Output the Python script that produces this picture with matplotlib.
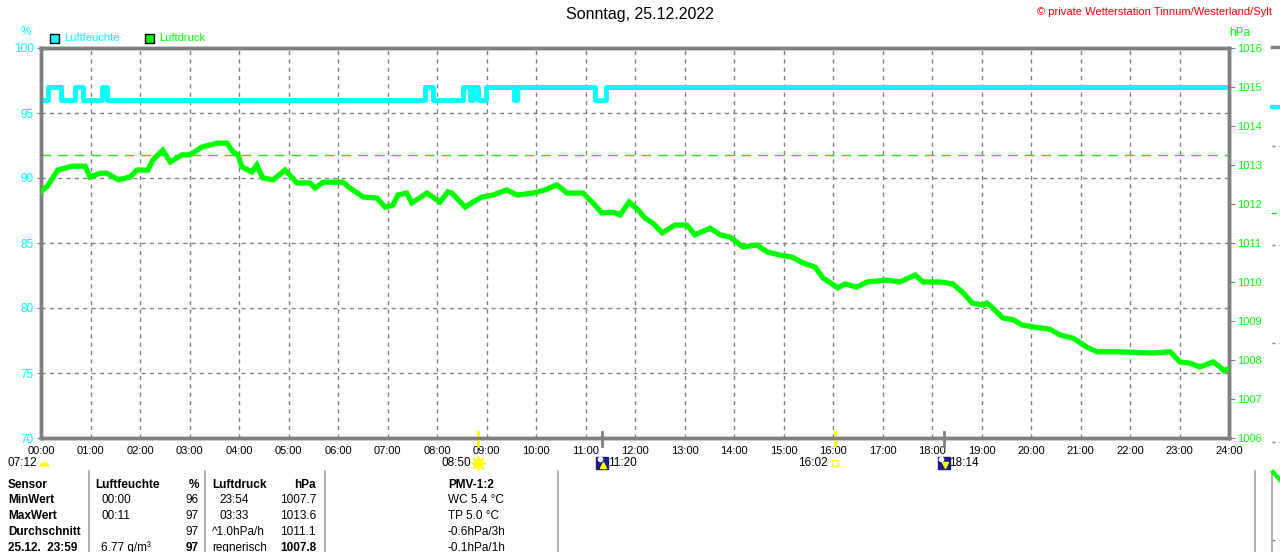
import numpy as np
import matplotlib
matplotlib.use("Agg")
import matplotlib.pyplot as plt
from matplotlib.patches import Rectangle
from matplotlib.lines import Line2D
import matplotlib.transforms as mtransforms

plt.rcParams['font.family'] = ['Liberation Sans', 'DejaVu Sans']

#-------------------------------------------------------------
# data
title = "Sonntag, 25.12.2022"
copyright_txt = "\u00a9 private Wetterstation Tinnum/Westerland/Sylt"

hours = ["00:00", "01:00", "02:00", "03:00", "04:00", "05:00", "06:00", "07:00",
         "08:00", "09:00", "10:00", "11:00", "12:00", "13:00", "14:00", "15:00",
         "16:00", "17:00", "18:00", "19:00", "20:00", "21:00", "22:00", "23:00", "24:00"]

# Luftfeuchte (%), step function
hum_t = [0.00, 0.14, 0.40, 0.69, 0.85, 1.23, 1.33, 7.76, 7.92, 8.53, 8.67,
         8.73, 8.83, 8.99, 9.56, 9.62, 11.19, 11.41, 24.0]
hum_v = [96, 97, 96, 97, 96, 97, 96, 97, 96, 97, 96,
         97, 96, 97, 96, 97, 96, 97, 97]

# Luftdruck (hPa)
pres_t = [0.00, 0.12, 0.34, 0.63, 0.89, 0.99, 1.19, 1.33, 1.56, 1.80, 1.94, 2.16,
          2.26, 2.46, 2.61, 2.85, 3.01, 3.25, 3.56, 3.76, 3.88, 3.98, 4.06, 4.26,
          4.36, 4.48, 4.69, 4.93, 5.17, 5.43, 5.54, 5.70, 6.10, 6.24, 6.51, 6.79,
          6.95, 7.11, 7.21, 7.39, 7.49, 7.80, 8.06, 8.22, 8.30, 8.57, 8.73, 8.91,
          9.13, 9.41, 9.62, 9.94, 10.18, 10.42, 10.63, 10.95, 11.15, 11.33, 11.56,
          11.70, 11.88, 12.06, 12.20, 12.36, 12.55, 12.81, 13.05, 13.21, 13.52,
          13.72, 13.92, 14.18, 14.46, 14.67, 14.93, 15.17, 15.39, 15.64, 15.80,
          16.10, 16.24, 16.48, 16.69, 17.09, 17.35, 17.66, 17.82, 18.16, 18.42,
          18.63, 18.81, 19.03, 19.11, 19.23, 19.43, 19.64, 19.82, 20.04, 20.38,
          20.59, 20.85, 21.13, 21.33, 21.74, 22.46, 22.81, 23.01, 23.21, 23.41,
          23.68, 23.82, 23.90, 24.00]
pres_v = [1012.33, 1012.44, 1012.87, 1012.97, 1012.97, 1012.69, 1012.79, 1012.79,
          1012.62, 1012.69, 1012.87, 1012.87, 1013.13, 1013.38, 1013.08, 1013.26,
          1013.26, 1013.46, 1013.56, 1013.56, 1013.33, 1013.26, 1012.95, 1012.82,
          1013.00, 1012.67, 1012.62, 1012.87, 1012.54, 1012.54, 1012.41, 1012.56,
          1012.56, 1012.41, 1012.18, 1012.15, 1011.92, 1011.97, 1012.23, 1012.28,
          1012.03, 1012.28, 1012.05, 1012.31, 1012.28, 1011.92, 1012.05, 1012.18,
          1012.23, 1012.36, 1012.23, 1012.28, 1012.36, 1012.49, 1012.28, 1012.28,
          1012.03, 1011.77, 1011.79, 1011.72, 1012.05, 1011.85, 1011.64, 1011.51,
          1011.26, 1011.46, 1011.46, 1011.21, 1011.38, 1011.21, 1011.15, 1010.90,
          1010.95, 1010.77, 1010.69, 1010.64, 1010.49, 1010.38, 1010.10, 1009.85,
          1009.95, 1009.87, 1010.00, 1010.05, 1010.00, 1010.18, 1010.00, 1010.00,
          1009.95, 1009.72, 1009.46, 1009.41, 1009.46, 1009.33, 1009.08, 1009.03,
          1008.90, 1008.85, 1008.79, 1008.64, 1008.56, 1008.33, 1008.21, 1008.21,
          1008.18, 1008.21, 1007.95, 1007.92, 1007.82, 1007.95, 1007.82, 1007.72,
          1007.78]
norm_pressure = 1013.25

# sun / moon events
ev_text = ["08:50", "11:20", "16:02", "18:14"]
ev_kind = ["sunrise", "moonrise", "sunset", "moonset"]
dawn_text = "07:12"

# table below the chart
tbl_sensor = ["Sensor", "MinWert", "MaxWert", "Durchschnitt", "25.12.  23:59"]
tbl_hum_time = ["Luftfeuchte", "00:00", "00:11", "", "6.77 g/m\u00b3"]
tbl_hum_val = ["%", "96", "97", "97", "97"]
tbl_pres_time = ["Luftdruck", "23:54", "03:33", "^1.0hPa/h", "regnerisch"]
tbl_pres_val = ["hPa", "1007.7", "1013.6", "1011.1", "1007.8"]
tbl_pmv = ["PMV-1:2", "WC 5.4 \u00b0C", "TP 5.0 \u00b0C", "-0.6hPa/3h", "-0.1hPa/1h"]

#-------------------------------------------------------------
CYAN = "#00ffff"
GREEN = "#00ff00"
GRAY = "#808080"
W, H = 1280, 552

def fx(px): return px / W
def fy(py): return 1 - py / H

fig = plt.figure(figsize=(12.8, 5.52), dpi=100)
ax = fig.add_axes([fx(41), 114 / H, 1188 / W, 390 / H])
ax2 = ax.twinx()

ax.set_xlim(0, 24)
ax.set_ylim(70, 100)
ax2.set_ylim(1006, 1016)

ax.set_xticks(np.arange(25))
ax.set_xticklabels(hours, fontsize=8)
ax.set_yticks(np.arange(70, 101, 5))
ax.set_yticklabels([str(v) for v in range(70, 101, 5)], fontsize=8.5, color=CYAN)
ax2.set_yticks(np.arange(1006, 1017))
ax2.set_yticklabels([str(v) for v in range(1006, 1017)], fontsize=8, color=GREEN)

ax.grid(True, color=GRAY, ls=(0, (3, 3)), lw=1)
ax.tick_params(axis='x', length=0, pad=6)
ax.tick_params(axis='y', length=3, color=GRAY, pad=2)
ax2.tick_params(axis='y', length=4, color=GRAY, pad=1.5)
for a in (ax, ax2):
    for s in a.spines.values():
        s.set_color(GRAY)
        s.set_linewidth(2.5)

ax.step(hum_t, hum_v, where='post', color=CYAN, lw=3.5, zorder=3)
ax2.axhline(norm_pressure, color="#20e020", ls=(0, (7, 5)), lw=1)
ax2.plot(pres_t, pres_v, color=GREEN, lw=3.8, solid_joinstyle='miter', zorder=4)

#-------------------------------------------------------------
# titles, units, legend
fig.text(0.5, fy(15), title, ha='center', va='center', fontsize=11.5)
fig.text(fx(1272), fy(12), copyright_txt, ha='right', va='center', fontsize=8, color='red')
fig.text(fx(26), fy(32), "%", ha='center', va='center', fontsize=8.5, color=CYAN)
fig.text(fx(1240), fy(33), "hPa", ha='center', va='center', fontsize=8.5, color=GREEN)

for px, col, lab in [(50, CYAN, "Luftfeuchte"), (145, GREEN, "Luftdruck")]:
    fig.add_artist(Rectangle((fx(px), fy(43)), 9 / W, 9 / H, facecolor=col,
                             edgecolor='black', lw=1, transform=fig.transFigure))
    fig.text(fx(px + 14), fy(38), lab, ha='left', va='center', fontsize=8, color=col)

#-------------------------------------------------------------
# sun and moon events under the time axis
trans = mtransforms.blended_transform_factory(ax.transData, ax.transAxes)
y_icon = -25 / 390
for txt, kind in zip(ev_text, ev_kind):
    hh, mm = txt.split(":")
    t = int(hh) + int(mm) / 60
    sun = kind.startswith("sun")
    ax.plot([t, t], [0.016, -0.02], color='yellow' if sun else GRAY, lw=2,
            transform=trans, clip_on=False, zorder=5)
    if kind == "sunrise":
        ax.plot(t, y_icon, marker=(8, 2, 0), ms=11, mec='yellow', mew=1,
                transform=trans, clip_on=False)
        ax.plot(t, y_icon, 'o', ms=6, color='yellow', transform=trans, clip_on=False)
    elif kind == "sunset":
        ax.plot(t, y_icon, 's', ms=5, mfc='none', mec='yellow', mew=1,
                transform=trans, clip_on=False)
    else:
        ax.plot(t, y_icon, 's', ms=9, color='#1c1c8c', transform=trans, clip_on=False)
        ax.plot(t - 0.05, y_icon + 0.01, 'o', ms=3, color='white',
                transform=trans, clip_on=False)
        ax.plot(t + 0.03, y_icon - 0.005, '^' if kind == "moonrise" else 'v', ms=4,
                color='yellow', transform=trans, clip_on=False)
    if sun:
        ax.text(t - 0.15, y_icon, txt, ha='right', va='center', fontsize=8.5,
                transform=trans, clip_on=False)
    else:
        ax.text(t + 0.12, y_icon, txt, ha='left', va='center', fontsize=8.5,
                transform=trans, clip_on=False)

fig.text(fx(37), fy(463), dawn_text, ha='right', va='center', fontsize=8.5)
ax.plot(0.06, y_icon - 0.008, 'o', ms=7, fillstyle='top', color='yellow',
        markerfacecoloralt='none', mew=0, transform=trans, clip_on=False)

#-------------------------------------------------------------
# table
row_y = [485, 500, 516, 532, 548]
for i, y in enumerate(row_y):
    head = (i == 0)
    fig.text(fx(8), fy(y), tbl_sensor[i], ha='left', va='center', fontsize=8.5,
             fontweight='bold')
    fig.text(fx(95 if head else 101), fy(y), tbl_hum_time[i], ha='left', va='center',
             fontsize=8.5, fontweight='bold' if head else 'normal')
    fig.text(fx(199), fy(y), tbl_hum_val[i], ha='right', va='center', fontsize=8.5,
             fontweight='bold' if head or i == 4 else 'normal')
    fig.text(fx(212 if head or i >= 3 else 219), fy(y), tbl_pres_time[i], ha='left',
             va='center', fontsize=8.5, fontweight='bold' if head else 'normal')
    fig.text(fx(316), fy(y), tbl_pres_val[i], ha='right', va='center', fontsize=8.5,
             fontweight='bold' if head or i == 4 else 'normal')
    fig.text(fx(448), fy(y), tbl_pmv[i], ha='left', va='center', fontsize=8.5,
             fontweight='bold' if head else 'normal')

for px in [89, 205, 325, 558, 1255]:
    fig.add_artist(Line2D([fx(px), fx(px)], [fy(471), 0], color='#a0a0a0', lw=1.2,
                          transform=fig.transFigure))

#-------------------------------------------------------------
# cut-off edge of the neighbouring chart on the right
fig.add_artist(Line2D([fx(1272), 1], [fy(47), fy(47)], color=GRAY, lw=2.5,
                      transform=fig.transFigure))
fig.add_artist(Line2D([fx(1272), 1], [fy(107), fy(107)], color=CYAN, lw=3,
                      transform=fig.transFigure))
fig.add_artist(Line2D([fx(1272), fx(1276)], [fy(213), fy(213)], color=GREEN, lw=1,
                      transform=fig.transFigure))
for py in [146, 245, 343, 442, 540]:
    fig.add_artist(Line2D([fx(1272), 1], [fy(py), fy(py)], color=GRAY, lw=1,
                          ls=(0, (2, 3)), transform=fig.transFigure))
fig.add_artist(Line2D([fx(1272), fx(1272)], [fy(472), 0], color='#a0a0a0', lw=1.2,
                      transform=fig.transFigure))
fig.add_artist(Line2D([fx(1273), fx(1280)], [fy(472), fy(480)], color=GREEN, lw=3,
                      transform=fig.transFigure))

fig.savefig("out.png", dpi=100, facecolor='white')
